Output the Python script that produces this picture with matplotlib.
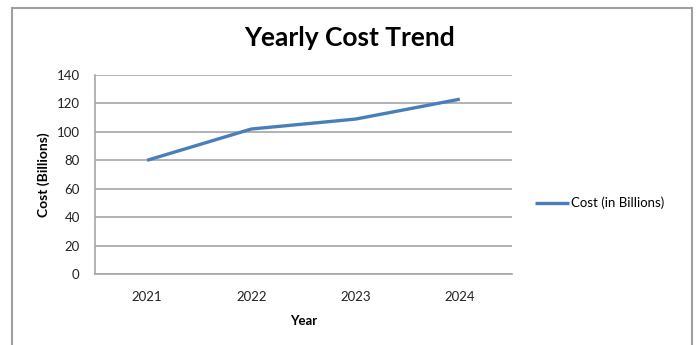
import matplotlib.pyplot as plt
import matplotlib.patches as patches

# data
years = ['2021', '2022', '2023', '2024']
cost = [80, 102, 109, 123]
yticks = [0, 20, 40, 60, 80, 100, 120, 140]

plt.rcParams['font.family'] = ['Lato', 'DejaVu Sans']

fig = plt.figure(figsize=(6.97, 3.45), dpi=100)
ax = fig.add_axes([95/697, 71/345, 417/697, 199/345])

x = list(range(len(years)))
ax.plot(x, cost, color='#4a7ebb', lw=2.4, solid_capstyle='butt', label='Cost (in Billions)')

ax.set_xlim(-0.5, len(years) - 0.5)
ax.set_ylim(0, 140)
ax.set_xticks(x)
ax.set_xticklabels(years)
ax.set_yticks(yticks)
ax.grid(axis='y', color='#a6a6a6', lw=1.2)
ax.set_axisbelow(True)
for s in ['top', 'right']:
    ax.spines[s].set_visible(False)
for s in ['left', 'bottom']:
    ax.spines[s].set_color('#a6a6a6')
    ax.spines[s].set_linewidth(1.2)
ax.tick_params(axis='y', length=0, pad=11, labelsize=9.5, colors='#222222')
ax.tick_params(axis='x', length=0, pad=12, labelsize=9.5, colors='#222222')

ax.set_xlabel('Year', fontweight='bold', fontsize=9.5, labelpad=9)
ax.set_ylabel('Cost (Billions)', fontweight='bold', fontsize=10, labelpad=5)

fig.text(350/697, 1 - 38/345, 'Yearly Cost Trend', ha='center', va='center',
         fontsize=19, fontweight='bold')

ax.legend(loc='center left', bbox_to_anchor=(523/697, 1 - 203/345),
          bbox_transform=fig.transFigure, frameon=False, fontsize=9.5,
          handlelength=2.6, handletextpad=0.15)

# chart frame
frame = patches.Rectangle((12/697, -0.1), 680/697, 1.1 - 7.5/345,
                          transform=fig.transFigure, fill=False,
                          edgecolor='#a0a0a0', lw=1.5)
fig.patches.append(frame)

plt.savefig('out.png', dpi=100)
plt.close()
